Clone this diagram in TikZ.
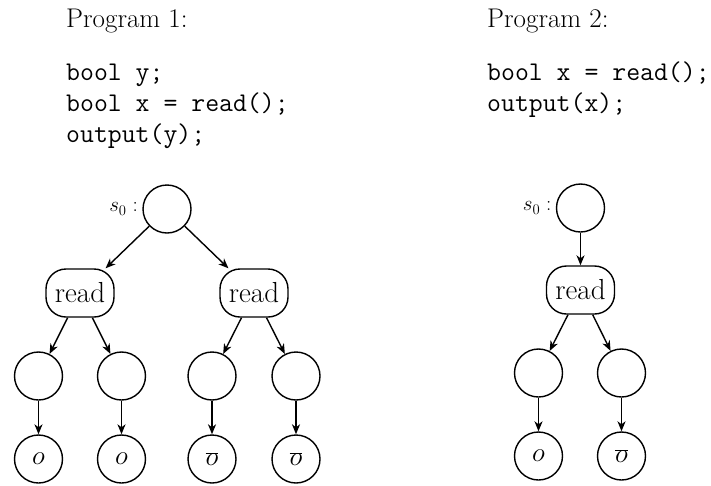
\RequirePackage{fix-cm}
\documentclass[tikz,border=0pt]{standalone}
\usepackage{fontspec}
\usetikzlibrary{arrows.meta}
\begin{document}
\begin{tikzpicture}[x=1pt,y=-1pt,
  st/.style={circle,draw,line width=1.4pt,minimum size=48pt,inner sep=0pt,font=\fontsize{27}{30}\selectfont},
  rd/.style={rectangle,rounded corners=20pt,draw,line width=1.4pt,minimum width=68pt,minimum height=48pt,inner sep=0pt,font=\fontsize{29}{32}\selectfont},
  arr/.style={-{Stealth[length=10pt,width=8pt,inset=3pt]},line width=1.4pt},
  title/.style={anchor=base west,inner sep=0pt,font=\fontsize{27}{30}\selectfont},
  code/.style={anchor=base west,inner sep=0pt,font=\fontsize{27}{30}\selectfont\ttfamily},
  lab/.style={font=\fontsize{21}{24}\selectfont,label distance=1pt}]
\useasboundingbox (0,0) rectangle (711,485);
% Program texts
\node[title] (t1) at (66,27) {Program 1:};
\node[code] (p1a) at (66,80) {bool y;};
\node[code] (p1b) at (66,111) {bool x = read();};
\node[code] (p1c) at (66,142) {output(y);};
\node[title] (t2) at (487,27) {Program 2:};
\node[code] (p2a) at (487,80) {bool x = read();};
\node[code] (p2b) at (487,111) {output(x);};
% Tree 1
\node[st,label={[lab,name=s1]left:$s_0:$}] (r1) at (167,209) {};
\node[rd] (a1) at (80,293) {read};
\node[rd] (b1) at (254,293) {read};
\node[st] (c1) at (38.5,376) {};
\node[st] (c2) at (121.5,376) {};
\node[st] (c3) at (212,376) {};
\node[st] (c4) at (296,376) {};
\node[st] (d1) at (38.5,459) {$o$};
\node[st] (d2) at (121.5,459) {$o$};
\node[st] (d3) at (212,459) {$\overline{o}$};
\node[st] (d4) at (296,459) {$\overline{o}$};
\draw[arr] (r1) -- (a1);
\draw[arr] (r1) -- (b1);
\draw[arr] (a1) -- (c1);
\draw[arr] (a1) -- (c2);
\draw[arr] (b1) -- (c3);
\draw[arr] (b1) -- (c4);
\draw[arr] (c1) -- (d1);
\draw[arr] (c2) -- (d2);
\draw[arr] (c3) -- (d3);
\draw[arr] (c4) -- (d4);
% Tree 2
\node[st,label={[lab,name=s2]left:$s_0:$}] (r2) at (580.5,208) {};
\node[rd] (a2) at (580.5,290) {read};
\node[st] (e1) at (538.5,373) {};
\node[st] (e2) at (621.5,373) {};
\node[st] (f1) at (538.5,456) {$o$};
\node[st] (f2) at (621.5,456) {$\overline{o}$};
\draw[arr] (r2) -- (a2);
\draw[arr] (a2) -- (e1);
\draw[arr] (a2) -- (e2);
\draw[arr] (e1) -- (f1);
\draw[arr] (e2) -- (f2);
\end{tikzpicture}
\end{document}
